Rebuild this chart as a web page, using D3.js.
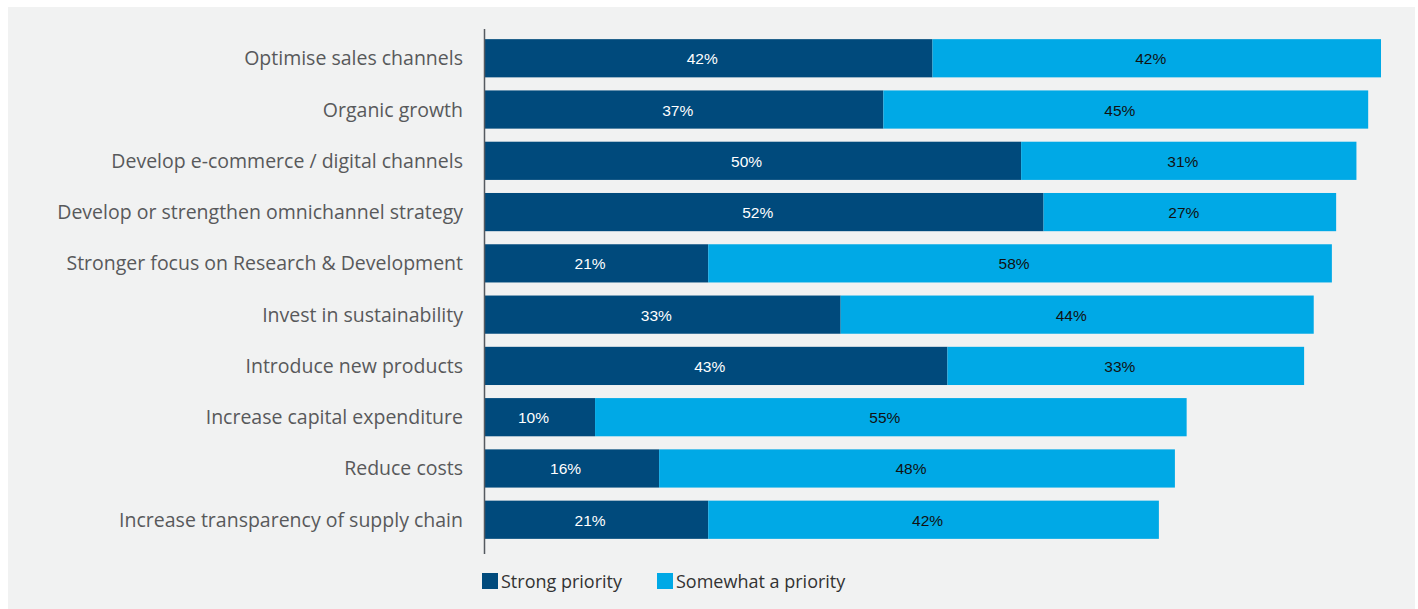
<!DOCTYPE html>
<html>
<head>
<meta charset="utf-8">
<script src="https://cdn.jsdelivr.net/npm/d3@7.9.0/dist/d3.min.js"></script>
<style>
  body { margin: 0; background: #fff; }
  svg { display: block; }
</style>
</head>
<body>
<svg id="chart" width="1418" height="609"></svg>
<script>
const categories = [
  'Optimise sales channels',
  'Organic growth',
  'Develop e-commerce / digital channels',
  'Develop or strengthen omnichannel strategy',
  'Stronger focus on Research & Development',
  'Invest in sustainability',
  'Introduce new products',
  'Increase capital expenditure',
  'Reduce costs',
  'Increase transparency of supply chain'
];
const strongPriority = [42, 37.4, 50.3, 52.4, 21, 33.4, 43.4, 10.4, 16.4, 21];
const somewhatPriority = [42, 45.4, 31.4, 27.4, 58.4, 44.3, 33.4, 55.4, 48.3, 42.2];
const seriesNames = ['Strong priority', 'Somewhat a priority'];
const colors = ['#004a7c', '#00a9e6'];

let svg = d3.select('#chart');
svg.append('rect')
  .attr('x', 8).attr('y', 7).attr('width', 1407).attr('height', 602)
  .attr('fill', '#f1f2f2');

let x = d3.scaleLinear().domain([0, 84]).range([484, 1381]);
let y = d3.scaleBand().domain(categories).range([33, 545]).paddingInner(0.255).paddingOuter(0.12);

let rows = categories.map((c, i) => ({ cat: c, vals: [strongPriority[i], somewhatPriority[i]] }));

rows.forEach((r) => {
  let start = 0;
  r.vals.forEach((v, j) => {
    svg.append('rect')
      .attr('x', x(start))
      .attr('y', y(r.cat))
      .attr('width', x(start + v) - x(start))
      .attr('height', y.bandwidth())
      .attr('fill', colors[j]);
    svg.append('text')
      .attr('x', x(start + v / 2) - 6)
      .attr('y', y(r.cat) + y.bandwidth() / 2 + 6)
      .attr('text-anchor', 'middle')
      .attr('font-family', 'Liberation Sans, Arial, sans-serif')
      .attr('font-size', 15.5)
      .attr('fill', j == 0 ? '#fff' : '#111')
      .text(Math.round(v) + '%');
    start += v;
  });
});

// category labels
svg.selectAll('text.cat')
  .data(categories)
  .join('text')
  .attr('class', 'cat')
  .attr('x', 463)
  .attr('y', (d) => y(d) + y.bandwidth() / 2 + 7)
  .attr('text-anchor', 'end')
  .attr('font-family', 'Open Sans, Noto Sans, sans-serif')
  .attr('font-size', 19.5)
  .attr('fill', '#58595b')
  .text((d) => d);

// axis line
svg.append('line')
  .attr('x1', 484.5).attr('x2', 484.5)
  .attr('y1', 29).attr('y2', 554)
  .attr('stroke', '#555a60').attr('stroke-width', 1.5);

// legend
let legendX = [482, 657];
seriesNames.forEach((name, i) => {
  svg.append('rect')
    .attr('x', legendX[i]).attr('y', 573)
    .attr('width', 16).attr('height', 16)
    .attr('fill', colors[i]);
  svg.append('text')
    .attr('x', legendX[i] + 19).attr('y', 588)
    .attr('font-family', 'Open Sans, Noto Sans, sans-serif')
    .attr('font-size', 18)
    .attr('fill', '#333')
    .text(name);
});
</script>
</body>
</html>
